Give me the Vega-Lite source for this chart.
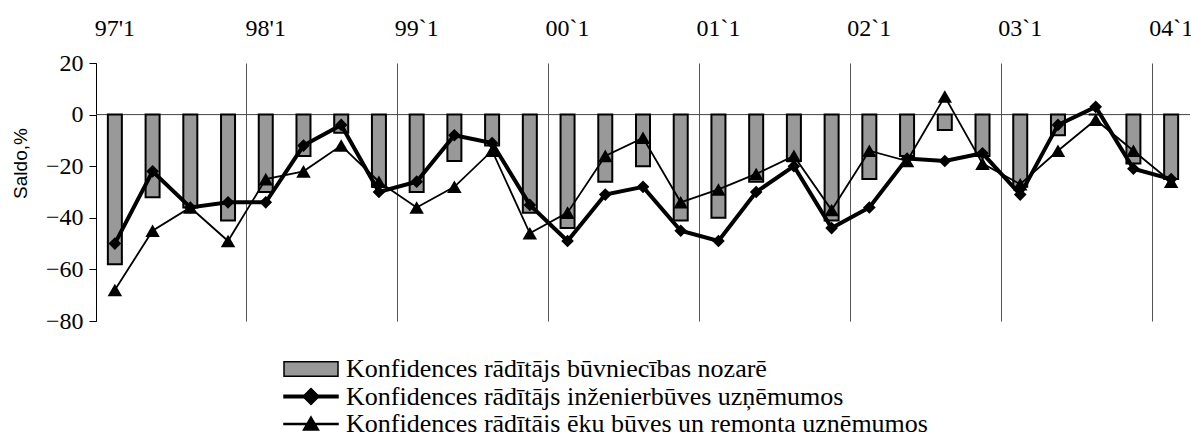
{
  "$schema": "https://vega.github.io/schema/vega-lite/v6.json",
  "width": 1094,
  "height": 258,
  "autosize": {"type": "none"},
  "padding": {"left": 96, "top": 63, "right": 1, "bottom": 111},
  "background": "white",
  "config": {
    "view": {"stroke": null},
    "axisY": {
      "grid": false,
      "domainColor": "black",
      "domainWidth": 1,
      "tickColor": "black",
      "tickSize": 7,
      "labelPadding": 6,
      "labelFont": "Liberation Serif",
      "labelFontSize": 24,
      "labelColor": "black",
      "titleFont": "Liberation Sans",
      "titleFontSize": 19,
      "titleFontWeight": "normal",
      "titleColor": "black",
      "titleX": -76,
      "titleY": 100,
      "titleAngle": -90,
      "titleAlign": "center",
      "titleBaseline": "middle",
      "values": [-80, -60, -40, -20, 0, 20]
    },
    "legend": {
      "orient": "none", "legendX": 202, "legendY": 293, "title": null,
      "labelFont": "Liberation Serif", "labelFontSize": 26, "labelColor": "black",
      "labelLimit": 0, "labelOffset": 22, "rowPadding": 1.5,
      "symbolSize": 400, "symbolStrokeColor": "black", "symbolStrokeWidth": 1.5, "symbolOpacity": 1
    }
  },
  "data": {
    "values": [
      {"q": "97'1", "bar": -58, "eng": -50, "bld": -68},
      {"q": "97'2", "bar": -32, "eng": -22, "bld": -45},
      {"q": "97'3", "bar": -36, "eng": -36, "bld": -36},
      {"q": "97'4", "bar": -41, "eng": -34, "bld": -49},
      {"q": "98'1", "bar": -30, "eng": -34, "bld": -25},
      {"q": "98'2", "bar": -16, "eng": -12, "bld": -22},
      {"q": "98'3", "bar": -7, "eng": -4, "bld": -12},
      {"q": "98'4", "bar": -28, "eng": -30, "bld": -26},
      {"q": "99`1", "bar": -30, "eng": -26, "bld": -36},
      {"q": "99`2", "bar": -18, "eng": -8, "bld": -28},
      {"q": "99`3", "bar": -12, "eng": -11, "bld": -14},
      {"q": "99`4", "bar": -38, "eng": -35, "bld": -46},
      {"q": "00`1", "bar": -44, "eng": -49, "bld": -38},
      {"q": "00`2", "bar": -26, "eng": -31, "bld": -16},
      {"q": "00`3", "bar": -20, "eng": -28, "bld": -9},
      {"q": "00`4", "bar": -41, "eng": -45, "bld": -34},
      {"q": "01`1", "bar": -40, "eng": -49, "bld": -29},
      {"q": "01`2", "bar": -26, "eng": -30, "bld": -23},
      {"q": "01`3", "bar": -18, "eng": -20, "bld": -16},
      {"q": "01`4", "bar": -41, "eng": -44, "bld": -37},
      {"q": "02`1", "bar": -25, "eng": -36, "bld": -14},
      {"q": "02`2", "bar": -16, "eng": -17, "bld": -18},
      {"q": "02`3", "bar": -6, "eng": -18, "bld": 7},
      {"q": "02`4", "bar": -16, "eng": -15, "bld": -19},
      {"q": "03`1", "bar": -28, "eng": -31, "bld": -27},
      {"q": "03`2", "bar": -8, "eng": -4, "bld": -14},
      {"q": "03`3", "bar": 0, "eng": 3, "bld": -2},
      {"q": "03`4", "bar": -19, "eng": -21, "bld": -14},
      {"q": "04`1", "bar": -25, "eng": -25, "bld": -26}
    ]
  },
  "layer": [
    {
      "data": {"values": [{}]},
      "mark": {"type": "rule", "color": "#444444", "strokeWidth": 1},
      "encoding": {
        "y": {"datum": 0, "type": "quantitative", "title": "Saldo,%", "scale": {"domain": [-80, 20], "nice": false, "zero": false}}
      }
    },
    {
      "mark": {"type": "bar", "width": 14, "fill": "#999999", "stroke": "black", "strokeWidth": 2},
      "encoding": {
        "x": {
          "field": "q", "type": "nominal", "sort": null,
          "scale": {"paddingInner": 0, "paddingOuter": 0},
          "axis": {
            "orient": "top", "title": null,
            "values": ["97'1", "98'1", "99`1", "00`1", "01`1", "02`1", "03`1", "04`1"],
            "bandPosition": 0, "labelOffset": 0,
            "grid": true, "gridColor": "#555555", "gridWidth": 1,
            "ticks": false, "tickSize": 0, "domain": false,
            "labelPadding": 23, "labelAngle": 0,
            "labelFont": "Liberation Serif", "labelFontSize": 24, "labelColor": "black"
          }
        },
        "y": {"field": "bar", "type": "quantitative", "title": "Saldo,%"}
      }
    },
    {
      "mark": {"type": "line", "color": "black", "strokeWidth": 1.8,
        "point": {"shape": "triangle-up", "size": 210, "filled": true, "fill": "black", "opacity": 1}},
      "encoding": {
        "x": {"field": "q", "type": "nominal", "sort": null},
        "y": {"field": "bld", "type": "quantitative", "title": "Saldo,%"}
      }
    },
    {
      "mark": {"type": "line", "color": "black", "strokeWidth": 4,
        "point": {"shape": "diamond", "size": 160, "filled": true, "fill": "black", "opacity": 1}},
      "encoding": {
        "x": {"field": "q", "type": "nominal", "sort": null},
        "y": {"field": "eng", "type": "quantitative", "title": "Saldo,%"}
      }
    },
    {
      "data": {"values": []},
      "mark": {"type": "point", "filled": true, "opacity": 1, "strokeWidth": 1.5},
      "encoding": {
        "color": {
          "field": "s", "type": "nominal",
          "scale": {
            "domain": ["Konfidences rādītājs būvniecības nozarē", "Konfidences rādītājs inženierbūves uzņēmumos", "Konfidences rādītājs ēku būves un remonta uzņēmumos"],
            "range": ["#999999", "black", "black"]
          }
        },
        "stroke": {
          "field": "s", "type": "nominal",
          "scale": {
            "domain": ["Konfidences rādītājs būvniecības nozarē", "Konfidences rādītājs inženierbūves uzņēmumos", "Konfidences rādītājs ēku būves un remonta uzņēmumos"],
            "range": ["black", "black", "black"]
          }
        },
        "shape": {
          "field": "s", "type": "nominal",
          "scale": {
            "domain": ["Konfidences rādītājs būvniecības nozarē", "Konfidences rādītājs inženierbūves uzņēmumos", "Konfidences rādītājs ēku būves un remonta uzņēmumos"],
            "range": [
              "M-2.7,-0.73H2.7V0.73H-2.7Z",
              "M-2.7,-0.13H2.7V0.13H-2.7ZM0,-0.8L0.8,0L0,0.8L-0.8,0Z",
              "M-2.7,-0.05H2.7V0.05H-2.7ZM0,-0.72L0.76,0.6L-0.76,0.6Z"
            ]
          }
        }
      }
    }
  ]
}
